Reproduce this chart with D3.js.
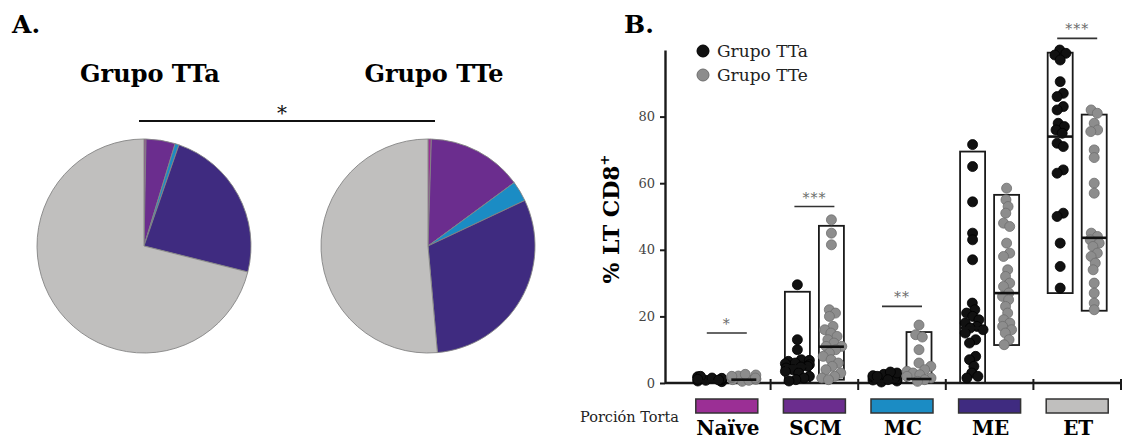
<!DOCTYPE html>
<html>
<head>
<meta charset="utf-8">
<script src="https://cdn.jsdelivr.net/npm/d3@7"></script>
<style>
  body { margin: 0; background: #fff; }
  text { font-family: 'DejaVu Serif', serif; }
</style>
</head>
<body>
<div id="chrt"></div>
<script>
// ---- data ----
const categories = ['Naïve', 'SCM', 'MC', 'ME', 'ET'];
const groups = ['TTa', 'TTe'];
const sliceColors = ['#9b2f95', '#6b2d8e', '#1b8cc4', '#3f2b80', '#c0bfbe'];

// pie shares (%) in category order
const pieTTa = [0.3, 4.4, 0.6, 23.6, 71.1];
const pieTTe = [0.5, 14.4, 3.1, 30.6, 51.4];

const yTicks = [0, 20, 40, 60, 80];

// individual points (% LT CD8+)
const naiveTTa = [0.4, 0.6, 0.8, 1.0, 1.2, 1.4, 1.5, 1.7, 1.9, 2.0, 0.9, 1.1];
const naiveTTe = [0.5, 0.8, 1.0, 1.3, 1.6, 1.8, 2.1, 2.4, 2.6, 1.1, 1.5, 2.0];
const scmTTa = [29.5, 13, 10, 7, 6.8, 6.5, 6, 5.8, 5.5, 5, 4.8, 4.5, 4, 3.5, 3, 2, 1.5, 1, 0.6];
const scmTTe = [49, 45, 41.5, 22, 21, 20, 17, 16, 15, 14, 13, 12, 11, 11, 10, 9, 8, 7, 6, 5, 4, 3, 2, 1.5, 1];
const mcTTa = [0.3, 0.6, 0.9, 1.2, 1.5, 1.8, 2.2, 2.6, 3.0, 3.3, 1.0, 2.0];
const mcTTe = [17.4, 14.5, 13.8, 10, 6, 5, 4, 3.5, 3, 2.5, 2, 1.5, 1, 0.5];
const meTTa = [71.6, 65, 54.4, 45, 43, 37, 24, 22, 21, 20, 19, 18, 17, 16.5, 16, 15, 13, 12, 8, 7, 5, 3, 2, 1.5];
const meTTe = [58.5, 55, 53, 51, 48, 47, 42, 39, 38, 34, 32, 30, 29, 27, 26, 25, 23, 21, 19, 18, 17, 16, 15, 13, 11.5];
const etTTa = [100, 99, 98.5, 97, 90.5, 87, 86, 83, 82, 78, 77, 76, 75, 72, 71, 64, 63, 51, 50, 42, 35, 28.5];
const etTTe = [82, 81, 78, 76, 75.5, 70, 67.7, 60, 57, 45, 44, 43, 42, 41, 39, 38, 36, 34, 30, 27, 24, 22];

// floating bars: min / median / max per category
const boxMinTTa = [0, 0, 0, 0, 27];
const boxMedTTa = [0.5, 5, 0.5, 16.5, 74];
const boxMaxTTa = [1, 27.4, 2, 69.5, 99.2];
const boxMinTTe = [0, 1, 0, 11.4, 21.7];
const boxMedTTe = [1, 10.9, 1.2, 27, 43.6];
const boxMaxTTe = [2, 47.2, 15.3, 56.5, 80.6];

// significance marks
const sigLabels = ['*', '***', '**', '', '***'];
const sigLevel = [15, 53, 23, 0, 103.5];

// ---- build tables ----
const pointsTTa = [naiveTTa, scmTTa, mcTTa, meTTa, etTTa];
const pointsTTe = [naiveTTe, scmTTe, mcTTe, meTTe, etTTe];
const columns = [];
categories.forEach((c, i) => {
  columns.push({ cat: c, grp: 'TTa', pts: pointsTTa[i], min: boxMinTTa[i], med: boxMedTTa[i], max: boxMaxTTa[i] });
  columns.push({ cat: c, grp: 'TTe', pts: pointsTTe[i], min: boxMinTTe[i], med: boxMedTTe[i], max: boxMaxTTe[i] });
});

const W = 1123, H = 441;
const svg = d3.select('#chrt').append('svg').attr('width', W).attr('height', H);

// ===== Panel A =====
svg.append('text').attr('x', 12).attr('y', 33).attr('font-size', 25).attr('font-weight', 'bold').text('A.');

const pie = d3.pie().sort(null).value((d) => d);
const arc = d3.arc().innerRadius(0).outerRadius(107);
const pies = [{ name: 'Grupo TTa', vals: pieTTa, cx: 144 }, { name: 'Grupo TTe', vals: pieTTe, cx: 428 }];
pies.forEach((p) => {
  const g = svg.append('g').attr('transform', 'translate(' + p.cx + ',246)');
  g.selectAll('path').data(pie(p.vals)).enter().append('path')
      .attr('d', arc)
      .attr('fill', (d, i) => sliceColors[i])
      .attr('stroke', '#858585')
      .attr('stroke-width', 0.9);
  svg.append('text').attr('x', p.cx + 6).attr('y', 82)
      .attr('text-anchor', 'middle').attr('font-size', 24).attr('font-weight', 'bold')
      .text(p.name);
});
svg.append('line').attr('x1', 139).attr('x2', 435).attr('y1', 121).attr('y2', 121)
    .attr('stroke', '#111').attr('stroke-width', 2);
svg.append('text').attr('x', 282).attr('y', 120).attr('text-anchor', 'middle')
    .attr('font-size', 20).attr('fill', '#111').text('*');

// ===== Panel B =====
svg.append('text').attr('x', 624).attr('y', 33).attr('font-size', 25).attr('font-weight', 'bold').text('B.');

const axisX0 = 665;
const scaleY = d3.scaleLinear().domain([0, 100]).range([383, 50]);
const scaleX = d3.scaleBand().domain(categories).range([683, 1121]);
const scaleG = d3.scaleBand().domain(groups).range([0, scaleX.bandwidth()]).paddingInner(0.265).paddingOuter(0.42);
const dotR = 5;

// y axis
const yAxis = svg.append('g').attr('transform', 'translate(' + axisX0 + ',0)')
    .call(d3.axisLeft(scaleY).tickValues(yTicks).tickSize(5).tickSizeOuter(0).tickPadding(5));
yAxis.select('.domain').attr('stroke', '#1a1a1a').attr('stroke-width', 2.4);
yAxis.selectAll('.tick line').attr('stroke', '#1a1a1a').attr('stroke-width', 2);
yAxis.selectAll('.tick text').attr('font-family', 'DejaVu Serif').attr('font-size', 13).attr('fill', '#444');

svg.append('text')
    .attr('transform', 'translate(619,219) rotate(-90)')
    .attr('text-anchor', 'middle').attr('font-size', 22).attr('font-weight', 'bold')
    .text('% LT CD8')
    .append('tspan').attr('dy', -10).attr('font-size', 13).text('+');

// x axis line + boundary ticks
svg.append('line').attr('x1', axisX0).attr('x2', 1122).attr('y1', scaleY(0)).attr('y2', scaleY(0))
    .attr('stroke', '#1a1a1a').attr('stroke-width', 2.4);
svg.selectAll('.xtick').data(categories).enter().append('line')
    .attr('class', 'xtick')
    .attr('x1', (d) => scaleX(d) + scaleX.bandwidth())
    .attr('x2', (d) => scaleX(d) + scaleX.bandwidth())
    .attr('y1', scaleY(0) - 4).attr('y2', scaleY(0) + 7)
    .attr('stroke', '#1a1a1a').attr('stroke-width', 2);

const colX = (d) => scaleX(d.cat) + scaleG(d.grp);
const colCx = (d) => colX(d) + scaleG.bandwidth() / 2;

// floating bars
svg.selectAll('.bar').data(columns).enter().append('rect')
    .attr('class', 'bar')
    .attr('x', colX)
    .attr('width', scaleG.bandwidth())
    .attr('y', (d) => scaleY(d.max))
    .attr('height', (d) => scaleY(d.min) - scaleY(d.max))
    .attr('fill', 'none').attr('stroke', '#1a1a1a').attr('stroke-width', 1.8);

// beeswarm positions (y fixed at value, x relaxed by collision)
function swarm(vals, cx) {
  const nodes = vals.map((v) => ({ v: v, x: cx, fy: scaleY(v) }));
  const sim = d3.forceSimulation(nodes)
      .force('x', d3.forceX(cx).strength(0.08))
      .force('c', d3.forceCollide(dotR * 0.7))
      .stop();
  for (let i = 0; i < 200; i++) sim.tick();
  nodes.forEach((n) => { n.x = Math.max(cx - 12, Math.min(cx + 12, n.x)); n.y = n.fy; });
  return nodes;
}

columns.forEach((col) => {
  const nodes = swarm(col.pts, colCx(col));
  const isTTa = col.grp === 'TTa';
  svg.append('g').selectAll('circle').data(nodes).enter().append('circle')
      .attr('cx', (d) => d.x)
      .attr('cy', (d) => d.y)
      .attr('r', dotR)
      .attr('fill', isTTa ? '#111' : '#8d8d8d')
      .attr('stroke', isTTa ? '#000' : '#6e6e6e')
      .attr('stroke-width', 0.8);
});

// medians
svg.selectAll('.med').data(columns).enter().append('line')
    .attr('class', 'med')
    .attr('x1', colX)
    .attr('x2', (d) => colX(d) + scaleG.bandwidth())
    .attr('y1', (d) => scaleY(d.med))
    .attr('y2', (d) => scaleY(d.med))
    .attr('stroke', '#111').attr('stroke-width', 2.6);

// significance
const sigData = categories.map((c, i) => ({ cat: c, lab: sigLabels[i], lvl: sigLevel[i] })).filter((d) => d.lab !== '');
const sigG = svg.append('g');
sigG.selectAll('line').data(sigData).enter().append('line')
    .attr('x1', (d) => scaleX(d.cat) + scaleX.bandwidth() / 2 - 20)
    .attr('x2', (d) => scaleX(d.cat) + scaleX.bandwidth() / 2 + 20)
    .attr('y1', (d) => scaleY(d.lvl))
    .attr('y2', (d) => scaleY(d.lvl))
    .attr('stroke', '#333').attr('stroke-width', 1.6);
sigG.selectAll('text').data(sigData).enter().append('text')
    .attr('x', (d) => scaleX(d.cat) + scaleX.bandwidth() / 2)
    .attr('y', (d) => scaleY(d.lvl) - 4)
    .attr('text-anchor', 'middle').attr('font-size', 14).attr('fill', '#6a6a6a')
    .attr('letter-spacing', 1)
    .text((d) => d.lab);

// legend
const legend = svg.append('g');
groups.forEach((gname, i) => {
  legend.append('circle').attr('cx', 703).attr('cy', 51 + i * 24).attr('r', 6)
      .attr('fill', i === 0 ? '#111' : '#8d8d8d').attr('stroke', i === 0 ? '#000' : '#6e6e6e');
  legend.append('text').attr('x', 717).attr('y', 57 + i * 24).attr('font-size', 17).attr('fill', '#222')
      .text('Grupo ' + gname);
});

// pie-slice key under the x axis
svg.selectAll('.key').data(categories).enter().append('rect')
    .attr('class', 'key')
    .attr('x', (d) => scaleX(d) + scaleX.bandwidth() / 2 - 31)
    .attr('y', 399).attr('width', 62).attr('height', 14)
    .attr('fill', (d, i) => sliceColors[i])
    .attr('stroke', '#333').attr('stroke-width', 1.5);
svg.selectAll('.catlab').data(categories).enter().append('text')
    .attr('class', 'catlab')
    .attr('x', (d) => scaleX(d) + scaleX.bandwidth() / 2 + 1)
    .attr('y', 435)
    .attr('text-anchor', 'middle').attr('font-size', 20).attr('font-weight', 'bold')
    .text((d) => d);
svg.append('text').attr('x', 580).attr('y', 422).attr('font-size', 14.5).attr('fill', '#222').text('Porción Torta');
</script>
</body>
</html>
